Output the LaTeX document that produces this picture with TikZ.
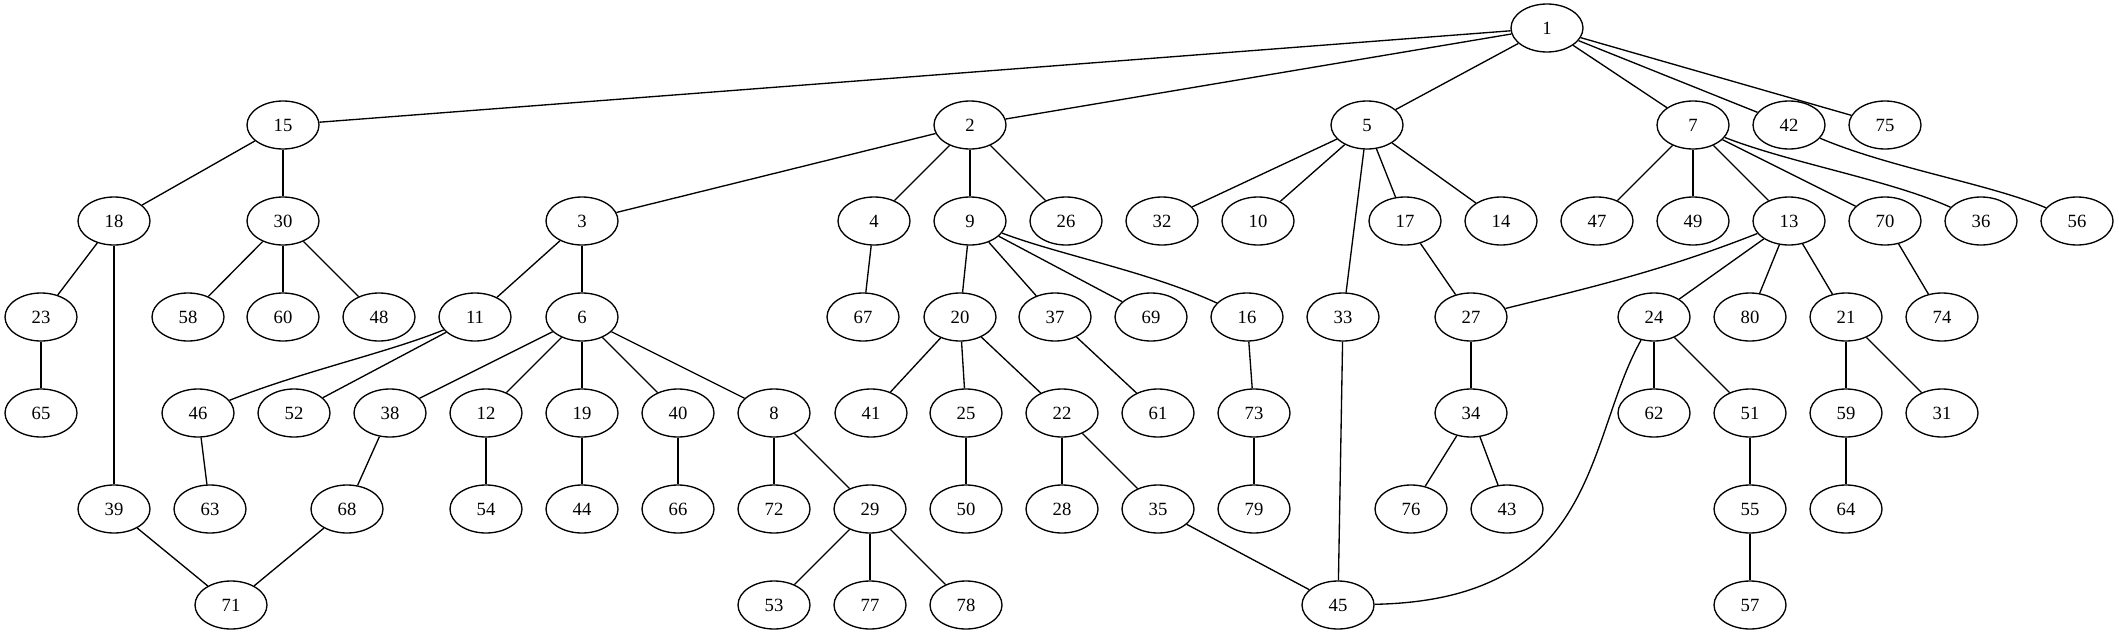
\documentclass[tikz,border=0pt]{standalone}
\usepackage{fontspec}
\setmainfont{Liberation Serif}
\usetikzlibrary{shapes.geometric}

\tikzset{sommet/.style = {ellipse, draw, line width = 1pt, inner sep = 0pt,
                          minimum width = 54pt, minimum height = 36pt,
                          font = \fontsize{14}{16}\selectfont},
         arete/.style = {line width = 1pt}
        }

\begin{document}
\begin{tikzpicture}[x=0.75pt, y=-0.75pt]
  \useasboundingbox (0,0) rectangle (2119,635);
  \foreach \n/\x/\y in {1/1547/28,
      15/283/125, 2/970/125, 5/1367/125, 7/1693/125, 42/1789/125, 75/1885/125,
      18/114/221, 30/283/221, 3/582/221, 4/874/221, 9/970/221, 26/1066/221,
      32/1162/221, 10/1258/221, 17/1405/221, 14/1501/221, 47/1597/221,
      49/1693/221, 13/1789/221, 70/1885/221, 36/1981/221, 56/2077/221,
      23/41/317, 58/188/317, 60/283/317, 48/379/317, 11/475/317, 6/582/317,
      67/863/317, 20/960/317, 37/1055/317, 69/1151/317, 16/1247/317,
      33/1343/317, 27/1471/317, 24/1654/317, 80/1750/317, 21/1846/317, 74/1942/317,
      65/41/413, 46/198/413, 52/294/413, 38/390/413, 12/486/413, 19/582/413,
      40/678/413, 8/774/413, 41/871/413, 25/966/413, 22/1062/413, 61/1158/413,
      73/1254/413, 34/1471/413, 62/1654/413, 51/1750/413, 59/1846/413, 31/1942/413,
      39/114/509, 63/210/509, 68/347/509, 54/486/509, 44/582/509, 66/678/509,
      72/774/509, 29/870/509, 50/966/509, 28/1062/509, 35/1158/509, 79/1254/509,
      76/1411/509, 43/1507/509, 55/1750/509, 64/1846/509,
      71/231/605, 53/774/605, 77/870/605, 78/966/605, 45/1338/605, 57/1750/605}
      {\node[sommet] (n\n) at (\x, \y) {\n};};
  \foreach \a/\b in {1/15, 1/2, 1/5, 1/7, 1/42, 1/75,
      15/18, 15/30, 18/23, 18/39, 23/65, 30/58, 30/60, 30/48,
      2/3, 2/4, 2/9, 2/26, 3/11, 3/6, 11/52, 46/63,
      6/38, 6/12, 6/19, 6/40, 6/8, 38/68, 68/71, 39/71, 12/54, 19/44, 40/66,
      8/72, 8/29, 29/53, 29/77, 29/78, 4/67,
      9/20, 9/37, 9/69, 20/41, 20/25, 20/22, 25/50, 22/28, 22/35, 35/45,
      37/61, 16/73, 73/79,
      5/32, 5/10, 5/33, 5/17, 5/14, 33/45, 17/27, 27/34, 34/76, 34/43,
      7/47, 7/49, 7/13, 7/70, 13/24, 13/80, 13/21, 24/62, 24/51, 51/55,
      55/57, 21/59, 21/31, 59/64, 70/74}
      {\draw[arete] (n\a) -- (n\b);};
  \draw[arete] (n11) .. controls (390,352) and (300,372) .. (n46);
  \draw[arete] (n9) .. controls (1060,255) and (1150,272) .. (n16);
  \draw[arete] (n7) .. controls (1790,163) and (1890,180) .. (n36);
  \draw[arete] (n42) .. controls (1890,168) and (1990,184) .. (n56);
  \draw[arete] (n13) .. controls (1660,272) and (1580,290) .. (n27);
  \draw[arete] (n24) .. controls (1585,440) and (1600,600) .. (n45);
\end{tikzpicture}
\end{document}
